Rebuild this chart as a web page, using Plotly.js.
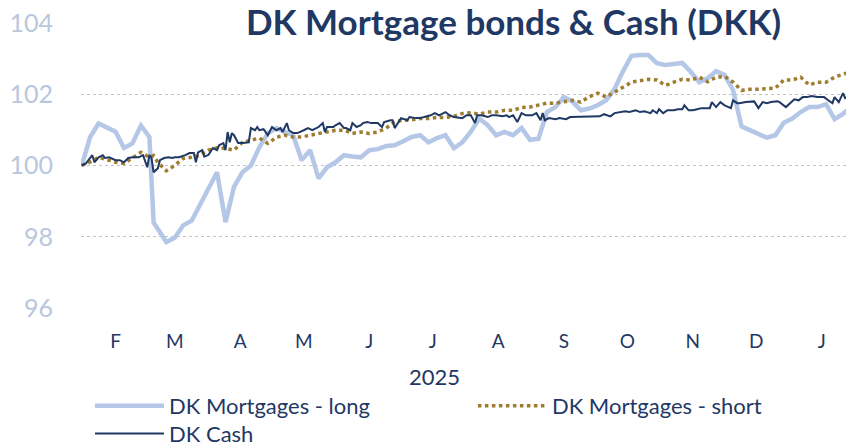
<!DOCTYPE html>
<html><head><meta charset="utf-8">
<script src="https://cdn.plot.ly/plotly-3.0.1.min.js"></script>
<style>html,body{margin:0;padding:0;background:#fff}#chart{width:846px;height:448px}</style>
</head><body><div id="chart"></div>
<script>
const dates = ['2025-01-16','2025-01-20','2025-01-24','2025-01-28','2025-02-01','2025-02-05','2025-02-09','2025-02-13','2025-02-17','2025-02-19','2025-02-21','2025-02-25','2025-03-01','2025-03-05','2025-03-09','2025-03-13','2025-03-17','2025-03-21','2025-03-25','2025-03-29','2025-04-02','2025-04-06','2025-04-10','2025-04-14','2025-04-18','2025-04-22','2025-04-26','2025-04-30','2025-05-04','2025-05-08','2025-05-12','2025-05-16','2025-05-20','2025-05-24','2025-05-28','2025-06-01','2025-06-05','2025-06-09','2025-06-13','2025-06-17','2025-06-21','2025-06-25','2025-06-29','2025-07-03','2025-07-07','2025-07-11','2025-07-15','2025-07-19','2025-07-23','2025-07-27','2025-07-31','2025-08-04','2025-08-08','2025-08-12','2025-08-16','2025-08-20','2025-08-24','2025-08-28','2025-09-01','2025-09-05','2025-09-09','2025-09-13','2025-09-17','2025-09-21','2025-09-25','2025-09-29','2025-10-03','2025-10-07','2025-10-11','2025-10-15','2025-10-19','2025-10-23','2025-10-27','2025-10-31','2025-11-04','2025-11-08','2025-11-12','2025-11-16','2025-11-20','2025-11-24','2025-11-28','2025-12-02','2025-12-06','2025-12-10','2025-12-14','2025-12-18','2025-12-22','2025-12-26','2025-12-30','2026-01-03','2026-01-07','2026-01-11','2026-01-13'];

const mortgagesLong = [100.0,100.8,101.18,101.05,100.95,100.49,100.62,101.12,100.8,98.4,98.2,97.85,97.97,98.32,98.45,98.9,99.36,99.81,98.41,99.4,99.81,100.0,100.51,100.9,101.05,100.94,100.85,100.15,100.43,99.64,99.95,100.09,100.29,100.25,100.23,100.43,100.46,100.55,100.57,100.68,100.8,100.85,100.65,100.77,100.85,100.49,100.65,100.95,101.32,101.13,100.85,100.94,100.85,101.05,100.72,100.75,101.5,101.64,101.92,101.8,101.55,101.6,101.69,101.83,102.15,102.65,103.08,103.1,103.1,102.87,102.82,102.85,102.88,102.63,102.34,102.45,102.65,102.54,102.12,101.1,101.0,100.91,100.78,100.85,101.2,101.32,101.5,101.64,101.64,101.72,101.3,101.45,101.55];

const mortgagesShort = [100.0,100.1,100.23,100.15,100.09,100.06,100.21,100.37,100.23,100.28,100.09,99.85,100.0,100.2,100.23,100.29,100.43,100.5,100.48,100.43,100.65,100.71,100.77,100.62,100.79,100.85,100.8,100.8,100.86,100.9,100.94,100.99,100.99,100.9,100.94,100.9,100.94,101.05,101.23,101.27,101.28,101.32,101.32,101.35,101.35,101.38,101.46,101.48,101.44,101.5,101.5,101.55,101.55,101.63,101.64,101.69,101.75,101.75,101.78,101.83,101.78,101.93,102.03,101.92,102.06,102.2,102.34,102.38,102.42,102.4,102.25,102.34,102.42,102.4,102.48,102.35,102.48,102.5,102.34,102.11,102.14,102.14,102.15,102.17,102.4,102.4,102.48,102.26,102.34,102.34,102.48,102.57,102.6];

const cashDates = ['2025-01-16','2025-01-18','2025-01-21','2025-01-22','2025-01-24','2025-01-26','2025-01-27','2025-01-29','2025-02-01','2025-02-03','2025-02-05','2025-02-07','2025-02-09','2025-02-12','2025-02-14','2025-02-16','2025-02-17','2025-02-18','2025-02-19','2025-02-21','2025-02-22','2025-02-24','2025-02-26','2025-02-28','2025-03-01','2025-03-03','2025-03-06','2025-03-08','2025-03-10','2025-03-11','2025-03-12','2025-03-14','2025-03-15','2025-03-17','2025-03-19','2025-03-21','2025-03-22','2025-03-24','2025-03-25','2025-03-26','2025-03-27','2025-03-28','2025-03-29','2025-03-31','2025-04-02','2025-04-05','2025-04-06','2025-04-08','2025-04-09','2025-04-10','2025-04-12','2025-04-14','2025-04-16','2025-04-18','2025-04-20','2025-04-21','2025-04-23','2025-04-24','2025-04-26','2025-04-28','2025-05-01','2025-05-03','2025-05-05','2025-05-08','2025-05-10','2025-05-11','2025-05-12','2025-05-15','2025-05-16','2025-05-18','2025-05-20','2025-05-21','2025-05-23','2025-05-24','2025-05-26','2025-05-28','2025-05-29','2025-05-31','2025-06-02','2025-06-05','2025-06-07','2025-06-08','2025-06-11','2025-06-12','2025-06-13','2025-06-15','2025-06-16','2025-06-19','2025-06-20','2025-06-23','2025-06-25','2025-06-27','2025-06-30','2025-07-02','2025-07-04','2025-07-07','2025-07-09','2025-07-11','2025-07-15','2025-07-17','2025-07-19','2025-07-21','2025-07-22','2025-07-24','2025-07-27','2025-07-29','2025-07-31','2025-08-03','2025-08-05','2025-08-06','2025-08-08','2025-08-10','2025-08-12','2025-08-14','2025-08-17','2025-08-19','2025-08-21','2025-08-22','2025-08-23','2025-08-25','2025-08-28','2025-08-30','2025-09-02','2025-09-04','2025-09-06','2025-09-09','2025-09-13','2025-09-18','2025-09-20','2025-09-23','2025-09-25','2025-09-28','2025-09-30','2025-10-02','2025-10-05','2025-10-07','2025-10-09','2025-10-12','2025-10-13','2025-10-15','2025-10-16','2025-10-18','2025-10-20','2025-10-23','2025-10-25','2025-10-27','2025-10-28','2025-10-30','2025-11-01','2025-11-03','2025-11-05','2025-11-08','2025-11-09','2025-11-10','2025-11-12','2025-11-14','2025-11-16','2025-11-19','2025-11-20','2025-11-22','2025-11-23','2025-11-26','2025-11-28','2025-11-30','2025-12-02','2025-12-04','2025-12-06','2025-12-08','2025-12-11','2025-12-12','2025-12-15','2025-12-17','2025-12-19','2025-12-21','2025-12-23','2025-12-25','2025-12-27','2025-12-30','2026-01-01','2026-01-02','2026-01-04','2026-01-06','2026-01-07','2026-01-09','2026-01-11','2026-01-12','2026-01-13'];

const dkCash = [100.0,100.06,100.29,100.09,100.23,100.29,100.21,100.23,100.15,100.15,100.09,100.21,100.23,100.23,100.29,99.95,100.29,100.21,99.81,99.92,100.15,100.21,100.23,100.21,100.23,100.23,100.29,100.35,100.35,100.09,100.37,100.43,100.25,100.3,100.49,100.43,100.57,100.63,100.43,100.94,100.65,100.91,100.85,100.63,100.63,100.65,101.05,100.99,101.08,100.99,101.02,100.85,101.08,100.99,101.05,100.94,101.19,100.99,100.91,100.91,100.99,101.05,100.99,101.08,101.19,100.94,101.08,101.08,101.13,101.19,101.05,101.05,100.99,101.19,101.08,101.13,101.19,101.22,101.19,101.19,101.08,101.22,101.27,101.27,101.05,101.22,101.33,101.27,101.36,101.33,101.33,101.36,101.41,101.47,101.41,101.5,101.41,101.36,101.33,101.41,101.41,101.19,101.41,101.41,101.36,101.41,101.41,101.38,101.41,101.36,101.41,101.22,101.47,101.41,101.41,101.47,101.27,101.47,101.27,101.33,101.3,101.33,101.3,101.36,101.36,101.36,101.36,101.38,101.44,101.38,101.47,101.5,101.52,101.5,101.55,101.5,101.52,101.47,101.55,101.47,101.58,101.47,101.55,101.55,101.58,101.58,101.69,101.55,101.55,101.58,101.61,101.61,101.61,101.78,101.64,101.78,101.69,101.61,101.83,101.75,101.75,101.78,101.78,101.8,101.61,101.78,101.75,101.78,101.8,101.78,101.64,101.75,101.86,101.83,101.92,101.92,101.95,101.92,101.92,101.92,101.83,101.75,101.92,101.78,102.03,101.89,101.92];

const monthTickDates = ['2025-02-01','2025-03-01','2025-04-01','2025-05-01','2025-06-01','2025-07-01','2025-08-01','2025-09-01','2025-10-01','2025-11-01','2025-12-01','2026-01-01'];
const monthTickLabels = ['F','M','A','M','J','J','A','S','O','N','D','J'];
const yTickValues = [96, 98, 100, 102, 104];
const seriesNames = ['DK Mortgages - long', 'DK Mortgages - short', 'DK Cash'];

const NAVY = '#1f3864';
const FONT = 'Lato, "Open Sans", "DejaVu Sans", sans-serif';

const traces = [
  {x: dates, y: mortgagesLong, name: seriesNames[0], type: 'scatter', mode: 'lines',
   legend: 'legend', line: {color: '#b4c7e7', width: 4.5}},
  {x: dates, y: mortgagesShort, name: seriesNames[1], type: 'scatter', mode: 'lines',
   legend: 'legend2', line: {color: '#a07d2e', width: 3.5, dash: 'dot'}},
  {x: cashDates, y: dkCash, name: seriesNames[2], type: 'scatter', mode: 'lines',
   legend: 'legend3', line: {color: NAVY, width: 2}}
];

function legendBox(x, y) {
  return {orientation: 'h', xref: 'container', yref: 'container',
          x: x, y: y, xanchor: 'left', yanchor: 'top', itemwidth: 69,
          font: {family: FONT, size: 22, color: NAVY},
          bgcolor: 'rgba(0,0,0,0)'};
}

const layout = {
  width: 846, height: 448,
  margin: {l: 81, r: 0, t: 23, b: 140, pad: 0, autoexpand: false},
  paper_bgcolor: '#ffffff', plot_bgcolor: '#ffffff',
  font: {family: FONT, color: NAVY},
  title: {text: 'DK Mortgage bonds & Cash (DKK)',
          font: {family: FONT, size: 35, color: NAVY, weight: 'bold'},
          xref: 'container', x: 0.607, xanchor: 'center',
          yref: 'container', y: 0.949, yanchor: 'middle'},
  xaxis: {type: 'date', range: ['2025-01-15 16:00', '2026-01-12 10:00'],
          tickmode: 'array', tickvals: monthTickDates, ticktext: monthTickLabels,
          showgrid: false, zeroline: false, showline: false, ticks: '',
          tickfont: {family: FONT, size: 19, color: NAVY}, ticklabelstandoff: 20},
  yaxis: {range: [96, 104], tickmode: 'array', tickvals: yTickValues, ticks: '',
          showgrid: true, gridcolor: '#c4c4c4', griddash: 'dot', gridwidth: 1,
          zeroline: false, showline: false,
          tickfont: {family: FONT, size: 25, color: '#b8c7de'}, ticklabelstandoff: 27},
  showlegend: true,
  legend: legendBox(0.1064, 0.1406),
  legend2: legendBox(0.559, 0.1406),
  legend3: legendBox(0.1064, 0.0790),
  annotations: [{text: '2025', xref: 'paper', yref: 'paper', x: 0.4627, y: -0.242,
                 xanchor: 'center', yanchor: 'middle', showarrow: false,
                 font: {family: FONT, size: 22, color: NAVY}}]
};

Plotly.newPlot('chart', traces, layout, {staticPlot: true, displayModeBar: false});
</script>
</body></html>
